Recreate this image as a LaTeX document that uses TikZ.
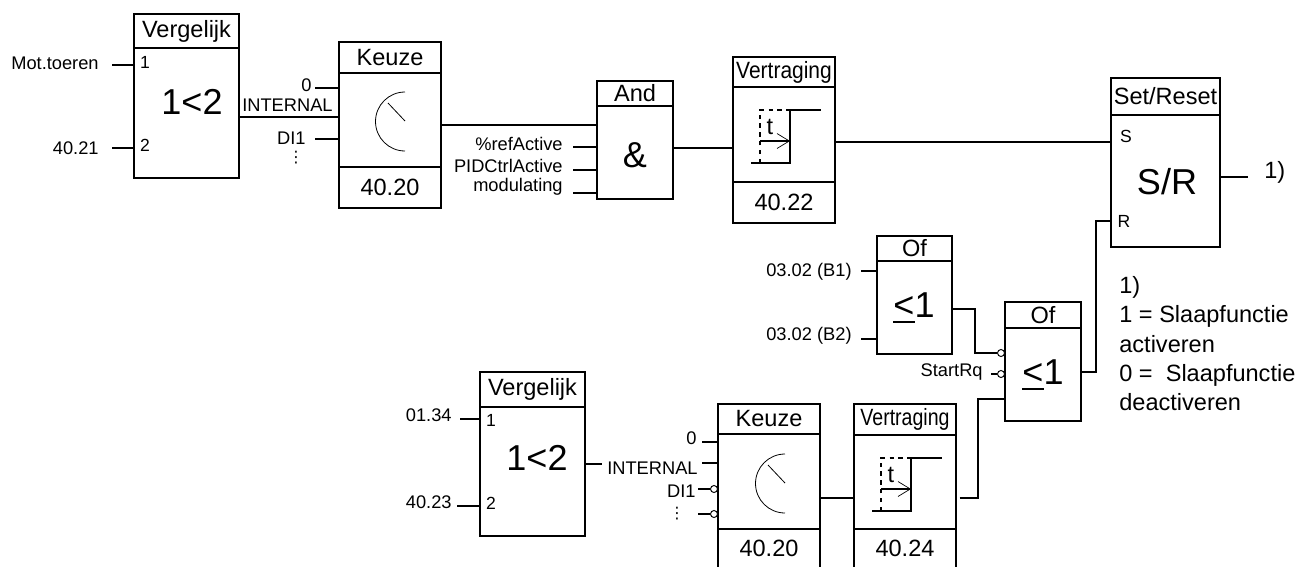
\documentclass[tikz,border=0pt]{standalone}
\usepackage{fontspec}
\setmainfont{Liberation Sans}
\newfontfamily\dotsfont{DejaVu Sans}
\usepackage{xcolor}
\usetikzlibrary{arrows.meta,fit}
\newcommand{\smal}[2]{\scalebox{#1}[1]{#2}}
\newcommand{\ofteken}{\makebox[0pt][l]{\rule[-2.9pt]{12.4pt}{1.2pt}}<1}
\tikzset{
  blok/.style={draw=black,line width=0.95pt,inner sep=0pt,outer sep=0pt},
  lijn/.style={draw=black,line width=0.95pt},
  dun/.style={draw=black,line width=0.45pt},
  inv/.style={circle,draw=black,fill=white,line width=0.55pt,inner sep=0pt,minimum size=1.4mm},
  titel/.style={inner sep=0pt,font=\fontsize{13.4}{15}\selectfont},
  groot/.style={inner sep=0pt,font=\fontsize{20.5}{24}\selectfont},
  poort/.style={inner sep=0pt,font=\fontsize{10}{12}\selectfont},
  klein/.style={inner sep=0pt,anchor=east,font=\fontsize{10.4}{12}\selectfont},
  puntjes/.style={inner sep=0pt,font=\dotsfont\fontsize{9}{10}\selectfont}
}
\begin{document}
\begin{tikzpicture}[x=0.02cm,y=-0.02cm]
\path[use as bounding box,clip] (0,0) rectangle (1299,566);
\foreach \naam/\xa/\ya/\xb/\yb/\yt/\titel in {
  vg1/134/14/239/178/48/Vergelijk, ke1/339/42/441/208/73/Keuze,
  en1/597/81/673/199/106/And, vt1/733/57/835/223/87/{\smal{0.89}{Vertraging}},
  sr/1111/78/1220/247/115/{Set/Reset}, of1/877/236/952/354/261/Of,
  of2/1005/302/1081/421/328/Of, vg2/480/372/585/536/407/Vergelijk,
  ke2/718/404/820/568/434/Keuze, vt2/854/404/956/568/435/{\smal{0.83}{Vertraging}}}{
  \node[blok,fit={(\xa,\ya)(\xb,\yb)}] (\naam) {};
  \draw[lijn] (\naam.west |- 0,\yt) -- (\naam.east |- 0,\yt);
  \path (\naam.north) -- (\naam.north |- 0,\yt) node[midway,titel] (\naam-t) {\titel};
}
\foreach \naam/\yl/\tekst in {ke1/167/40.20,vt1/182/40.22,ke2/529/40.20,vt2/529/40.24}{
  \draw[lijn] (\naam.west |- 0,\yl) -- (\naam.east |- 0,\yl);
  \path (\naam.south) -- (\naam.south |- 0,\yl) node[midway,titel] (\naam-w) {\tekst};
}
\node[groot] (vg1-f) at (192,102) {1<2};
\node[groot] (vg2-f) at (537,458) {1<2};
\node[groot] (en1-f) at (635,155) {\&};
\node[groot] (sr-f) at (1167,182) {S/R};
\node[groot] (of1-f) at (914,308) {\ofteken};
\node[groot] (of2-f) at (1043,375) {\ofteken};
\foreach \naam/\x/\y/\tekst in {p1/145/62/1,p2/145/145/2,p3/491/420/1,p4/491/503/2,ps/1126/136/S,pr/1124/221/R}{
  \node[poort] (\naam) at (\x,\y) {\tekst};
}
\foreach \naam/\x/\y/\tekst in {
  l1/99/63/Mot.toeren, l2/99/148/40.21, l3/312/85/0, l4/333/105/INTERNAL, l5/306/138/DI1,
  l6/563/144/\%refActive, l7/563/166/PIDCtrlActive, l8/563/187/modulating,
  l9/852/272/03.02 (B1), l10/852/336/03.02 (B2), l11/983/372/StartRq,
  l12/452/415/01.34, l13/452/502/40.23, l14/698/468/INTERNAL, l15/697/438/0, l16/696/491/DI1}{
  \node[klein] (\naam) at (\x,\y) {\tekst};
}
\node[puntjes] (d1) at (296,158) {⋮};
\node[puntjes] (d2) at (677,514) {⋮};
\foreach \naam/\x/\y/\doel in {
  s1/112/65/vg1, s2/112/148/vg1, s3/315/88/ke1, s4/239/117/ke1, s5/315/139/ke1,
  s6/573/147/en1, s7/573/170/en1, s8/573/193/en1, s9/441/125/en1, s10/673/148/vt1,
  s11/835/142/sr, s12/861/271/of1, s13/861/339/of1, s14/460/419/vg2, s15/457/506/vg2,
  s16/702/442/ke2, s17/702/463/ke2, s18/820/498/vt2}{
  \coordinate (\naam) at (\x,\y);
  \draw[lijn] (\naam) -- (\naam -| \doel.west);
}
\coordinate (u1) at (585,464);
\coordinate (u1e) at (602,464);
\draw[lijn] (u1) -- (u1e);
\coordinate (u2) at (1220,177);
\coordinate (u2e) at (1248,177);
\draw[lijn] (u2) -- (u2e);
\node[inner sep=0pt,anchor=west,font=\fontsize{13.4}{15}\selectfont] (uit) at (1264,172) {1)};
\coordinate (r1) at (1081,372);
\coordinate (r2) at (1096,221);
\draw[lijn] (r1) -| (r2) -- (r2 -| sr.west);
\coordinate (o1) at (952,309);
\coordinate (o2) at (975,353);
\node[inv] (c1) at (1001,353) {};
\draw[lijn] (o1) -| (o2) -- (c1);
\coordinate (v1) at (959.5,498);
\coordinate (v2) at (978,399);
\draw[lijn] (v1) -| (v2) -- (v2 -| of2.west);
\node[inv] (c2) at (1001,374) {};
\coordinate (q1) at (991,374);
\draw[lijn] (q1) -- (c2);
\node[inv] (c3) at (714,489) {};
\coordinate (q2) at (698,489);
\draw[lijn] (q2) -- (c3);
\node[inv] (c4) at (714,514) {};
\coordinate (q3) at (698,514);
\draw[lijn] (q3) -- (c4);
\foreach \x/\y in {405/121,785/483}{
  \draw[dun] (\x,\y-29) arc[start angle=90,end angle=270,radius=0.59cm];
  \draw[dun] (\x-17,\y-18) -- (\x,\y);
}
\foreach \x/\y in {751/163,872/511}{
  \draw[lijn] (\x,\y) -- (\x+39,\y) -- (\x+39,\y-53) -- (\x+70,\y-53);
  \draw[lijn,dash pattern=on 2.5pt off 2.5pt] (\x+9,\y) -- (\x+9,\y-53) -- (\x+39,\y-53);
  \draw[lijn,-{Straight Barb[length=7pt,width=8.5pt,line width=0.4pt]}] (\x+9,\y-22) -- (\x+39,\y-22);
  \node[titel] at (\x+19,\y-36) {t};
}
\node[anchor=north west,inner sep=0pt,align=left,font=\fontsize{13.4}{16.7}\selectfont] (leg) at (1119,276)
  {1)\\1 = Slaapfunctie\\activeren\\0 =\ \ Slaapfunctie\\deactiveren};
\end{tikzpicture}
\end{document}
